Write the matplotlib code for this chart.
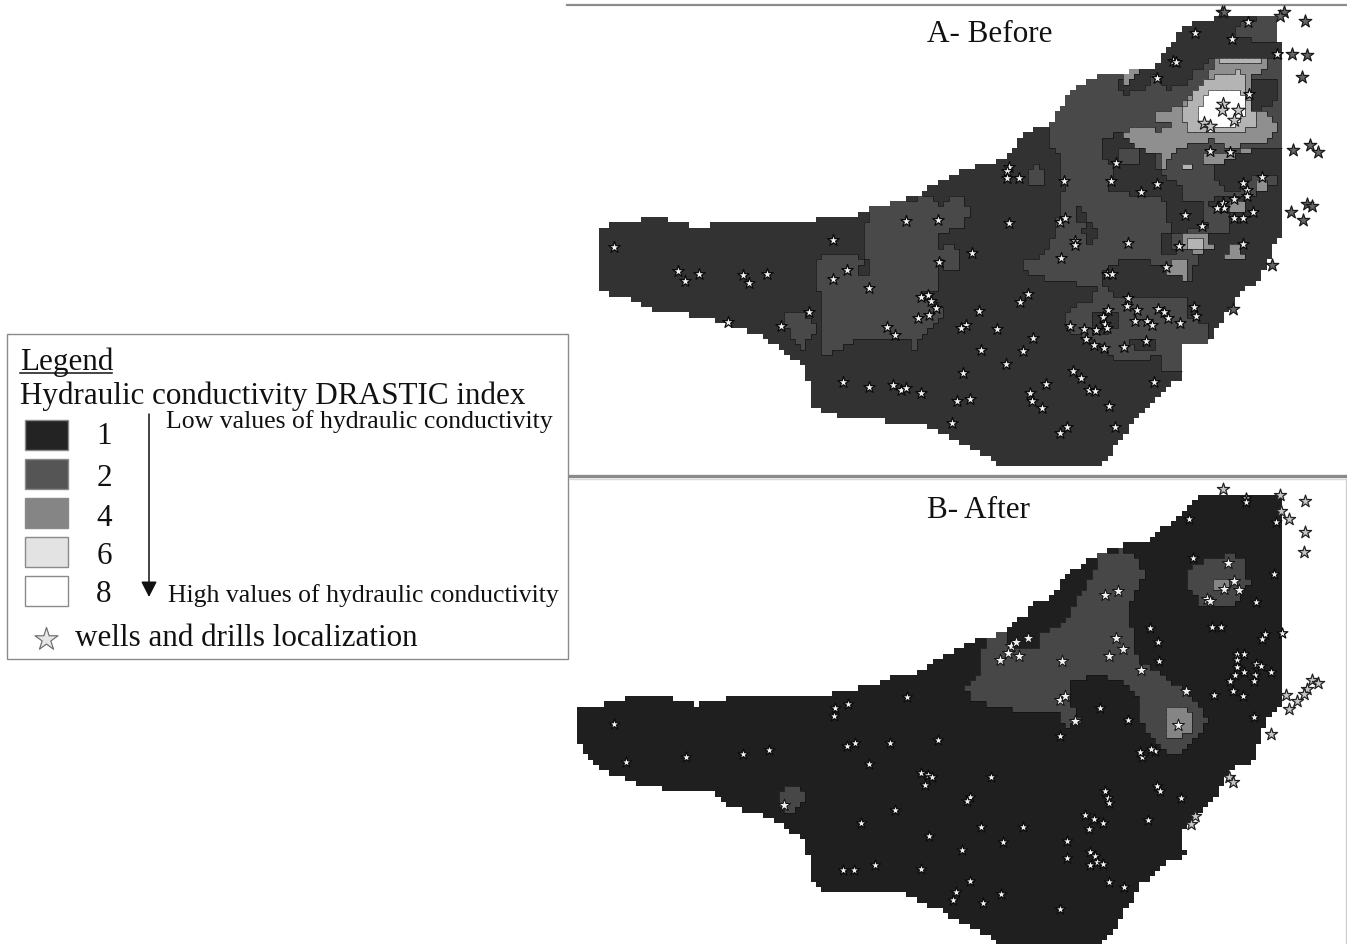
# -*- coding: utf-8 -*-
import numpy as np
import matplotlib
matplotlib.use("Agg")
from matplotlib import pyplot as plt
from matplotlib.collections import LineCollection
from matplotlib.colors import ListedColormap
from matplotlib.patches import Rectangle
from matplotlib.path import Path

plt.rcParams['font.family'] = ['Liberation Serif', 'DejaVu Serif']

# map_a / map_b: x * 2.018, y * 3   ne: x * 3, y * 3

# ---- panel A ----
a_outline = [(58,690),(80,690),(80,672),(140,672),(140,657),(192,657),(192,672),(235,672),(235,690),(285,690),
             (285,672),(340,672),(575,657),(605,625),(660,610),(700,590),(720,570),(800,510),(880,480),(920,400),
             (965,375),(990,330),(1010,280),(1055,235),(1115,220),(1175,205),(1215,140),(1225,110),(1255,68),(1295,68),
             (1300,50),(1425,50),(1425,130),(1440,130),(1440,715),(1420,735),(1410,790),(1385,850),(1350,880),(1335,930),
             (1305,985),(1285,1040),(1232,1040),(1232,1120),(1240,1130),(1215,1155),(1190,1190),(1140,1270),(1105,1330),
             (1080,1385),(1075,1400),(860,1400),(860,1385),(800,1340),(745,1300),(700,1270),(555,1262),(535,1245),
             (490,1230),(490,1180),(470,1100),(445,1075),(415,1040),(390,1010),(330,985),(300,965),(255,950),(165,935),
             (130,905),(80,885),(58,870)]

a_west_block = [(600,640),(610,625),(725,590),(745,620),(770,585),(795,600),(805,640),(790,680),(745,705),(745,825),
                (740,870),(700,890),(750,920),(760,945),(720,1000),(695,1045),(680,1020),(620,1025),(585,1015),(515,1070),
                (505,1050),(500,780),(520,765),(575,770),(590,790)]
a_west_notch = [(585,790),(605,785),(605,825),(580,825)]
a_west_small = [(432,935),(475,935),(495,990),(470,1045),(440,1000)]
a_corridor_blob = [(745,745),(770,732),(785,750),(785,805),(750,810)]
a_north_blob = [(920,510),(945,500),(962,520),(960,555),(925,560)]
a_centre = [(965,380),(1010,280),(1055,235),(1115,220),(1120,270),(1150,280),(1190,200),(1250,180),(1433,180),
            (1440,130),(1440,540),(1390,570),(1385,700),(1290,700),(1250,840),(1210,830),(1130,780),(1085,795),(1070,860),
            (1000,850),(925,830),(915,790),(945,780),(975,720),(985,640),(995,560),(985,470),(965,440)]
a_top_right = [(1340,90),(1370,60),(1425,50),(1425,130),(1375,125),(1340,105)]
a_south_patch = [(1005,930),(1050,900),(1070,860),(1130,860),(1180,880),(1240,890),(1250,960),(1285,970),(1285,1040),
                 (1232,1040),(1232,1120),(1195,1115),(1190,1060),(1165,1080),(1100,1085),(1080,1050),(1045,1020),(1000,990)]
a_south_dark_1 = [(1130,1020),(1175,1015),(1180,1045),(1135,1050)]
a_south_dark_2 = [(1050,950),(1100,930),(1110,985),(1060,1010)]
a_cross_1 = [(1015,640),(1030,625),(1045,645),(1040,665),(1020,665)]
a_cross_2 = [(1035,690),(1050,670),(1068,695),(1055,730),(1038,725)]

ne_pocket_west = [(68,420),(130,395),(180,380),(230,390),(225,470),(240,530),(300,560),(300,610),(360,600),(380,680),
                  (300,700),(240,700),(235,760),(285,770),(250,600),(180,590),(115,575),(85,575),(100,510),(68,470)]
ne_pocket_blob = [(110,450),(145,440),(180,460),(178,500),(115,500)]
ne_pocket_mid = [(395,500),(500,450),(610,440),(610,545),(545,520),(500,540),(480,580),(430,570),(400,540)]
ne_pocket_east = [(530,590),(610,590),(610,715),(560,760),(530,880),(470,880),(470,830),(500,800),(490,720),
                  (450,700),(440,640),(380,620),(400,590)]
ne_pocket_south = [(70,830),(85,795),(130,800),(185,780),(240,800),(260,800),(300,840),(315,900),(130,900),(60,860)]
ne_pocket_top = [(215,195),(255,170),(330,175),(400,175),(345,215),(320,250),(255,270),(225,240)]
ne_pocket_right = [(505,240),(580,235),(595,290),(560,320),(520,345),(505,300)]
ne_top_notch = [(115,245),(145,245),(145,282),(115,280)]

ne_light = [(130,395),(180,380),(240,395),(280,380),(210,355),(215,345),(285,325),(330,280),(390,220),(410,175),(550,175),
            (560,205),(505,235),(520,290),(540,320),(590,380),(580,420),(520,430),(450,450),(390,420),(290,450),(245,510),
            (240,470),(155,440)]
ne_lighter = [(305,340),(345,270),(395,235),(480,215),(500,235),(500,300),(530,350),(525,385),(470,400),(370,405),(320,390)]
ne_lighter_top = [(420,178),(545,178),(548,198),(420,200)]
ne_white = [(345,340),(390,265),(475,265),(490,300),(490,350),(470,375),(430,380),(395,395),(360,375)]
ne_strip = [(130,225),(175,205),(170,222),(140,255)]
ne_lower_band = [(365,470),(390,460),(430,470),(520,440),(500,460),(410,495),(370,495)]
ne_box = [(305,705),(390,705),(395,750),(360,760),(350,775),(345,760),(305,750)]
ne_box_inner = [(320,715),(365,715),(365,745),(320,745)]
ne_south_box = [(275,780),(330,780),(320,800),(315,840),(260,820),(255,800)]
ne_east_box = [(445,735),(485,730),(490,775),(440,775)]
ne_chip_1 = [(305,498),(330,498),(330,512),(305,512)]
ne_chip_2 = [(450,612),(490,612),(490,640),(450,640)]
ne_chip_3 = [(535,548),(560,548),(560,580),(535,580)]

a_wells_inside = [(88,745),(218,817),(232,845),(260,825),(349,829),(361,851),(397,825),(530,723),(559,813),(530,839),(603,866),
                  (483,939),(425,980),(319,970),(678,665),(742,663),(885,673),(812,763),(744,790),(885,503),(882,517),(882,537),
                  (906,537),(997,545),(988,670),(999,658),(1020,727),(1020,738),(990,778),(1127,733),(1091,546),(1102,491),
                  (1152,580),(1184,556),(1185,238),(1217,185),(1222,190),(1262,103),(1336,119),(1369,69),(1427,165),(1292,455),
                  (1332,460),(1241,647),(1276,680),(1229,741),(1203,803),(1083,825),(1094,825),(1358,552),(1367,572),(1367,592),
                  (1397,533),(1340,601),(1317,612),(1320,627),(1305,627),(1378,638),(1340,656),(1359,658),(1359,735),(1370,285),
                  (708,895),(722,888),(729,907),(738,927),(725,948),(702,957),(924,884),(908,908),(826,937),(800,977),(790,988),
                  (862,990),(934,1018),(829,1054),(914,1057),(880,1096),(793,1121),(639,985),(656,1007),(550,1148),(603,1163),
                  (652,1158),(668,1173),(678,1168),(708,1183),(780,1207),(807,1200),(771,1273),(928,1182),(932,1205),(952,1226),
                  (961,1155),(1015,1115),(1032,1137),(1048,1172),(1059,1177),(1088,1221),(1178,1150),(1099,1283),(1002,1285),
                  (988,1302),(1127,897),(1125,920),(1145,932),(1086,933),(1076,955),(1080,975),(1083,988),(1062,992),(1038,990),
                  (1008,982),(1041,1020),(1057,1038),(1077,1046),(1117,1045),(1163,1027),(1140,965),(1165,965),(1174,978),
                  (1186,930),(1198,938),(1207,957),(1230,973),(1260,925),(1264,950)]
a_wells_outside = [(1315,40),(1320,40),(1440,38),(1432,50),(1483,67),(1457,165),(1488,167),(1478,235),(1459,454),(1493,438),
                   (1510,460),(1487,615),(1498,620),(1454,640),(1479,662),(1417,798),(1338,930)]
a_wells_on_white = [(1318,315),(1315,333),(1348,333),(1340,362),(1280,372),(1292,380)]

# ---- panel B ----
b_outline = [(15,700),(70,700),(70,683),(108,683),(108,667),(212,667),(212,683),(245,683),(245,700),(265,700),(265,683),
             (318,683),(318,667),(525,667),(525,652),(585,652),(585,635),(620,635),(650,605),(715,590),(735,555),(775,530),
             (800,510),(835,490),(880,478),(880,460),(920,420),(935,385),(965,375),(985,340),(1000,310),(1035,265),(1075,230),
             (1110,225),(1115,212),(1175,212),(1175,195),(1215,140),(1250,90),(1275,62),(1440,62),(1440,690),(1410,730),
             (1390,800),(1380,860),(1330,885),(1300,980),(1250,1050),(1232,1070),(1232,1130),(1245,1135),(1240,1150),(1205,1155),
             (1190,1185),(1150,1235),(1125,1300),(1105,1360),(1065,1415),(860,1415),(860,1395),(800,1350),(735,1300),(680,1270),
             (680,1257),(515,1257),(490,1215),(480,1145),(465,1085),(445,1070),(415,1040),(385,1020),(325,1000),(295,960),
             (275,945),(185,945),(140,930),(90,900),(60,885),(35,850),(15,800)]
b_branch = [(835,490),(880,478),(890,520),(945,525),(950,480),(1000,440),(1010,410),(1045,320),(1070,240),(1110,228),(1140,240),
            (1160,300),(1130,390),(1130,440),(1140,520),(1150,560),(1195,600),(1245,660),(1270,690),(1285,745),(1250,815),
            (1215,850),(1180,810),(1150,740),(1150,680),(1115,620),(1060,605),(1005,620),(1005,670),(1030,750),(1000,755),
            (985,715),(910,710),(810,680),(797,640),(830,585)]
b_ne_blob = [(1245,300),(1265,265),(1320,250),(1335,235),(1360,260),(1370,330),(1335,400),(1275,400),(1250,350)]
b_ne_core = [(1300,325),(1320,310),(1335,350),(1305,350)]
b_south_core = [(1197,700),(1230,700),(1255,715),(1255,770),(1225,800),(1200,790)]
b_west_blob = [(420,965),(445,935),(470,945),(470,990),(450,1020),(430,1015)]

b_wells_small = [(88,750),(114,863),(235,848),(349,840),(401,828),(534,702),(532,726),(561,690),(558,816),(576,807),(645,807),
                 (743,797),(680,670),(603,871),(708,898),(722,903),(730,910),(716,934),(850,910),(808,968),(801,982),(656,1008),
                 (587,1048),(725,1087),(830,1060),(915,1059),(873,1103),(791,1127),(550,1187),(574,1187),(616,1174),(708,1186),
                 (807,1220),(778,1255),(772,1277),(870,1260),(833,1288),(989,1304),(1003,1100),(1002,1153),(1050,1133),(1060,1145),
                 (1050,1174),(1063,1163),(1075,1170),(1087,1225),(1118,1238),(1039,1024),(1057,1035),(1076,1048),(1047,1064),
                 (1079,950),(1085,972),(1087,988),(1166,1037),(1185,935),(1190,950),(1232,973),(989,785),(1069,702),(1127,737),
                 (1155,848),(1150,835),(1180,832),(1172,825),(1258,252),(1250,135),(1171,461),(1187,505),(1188,560),(1296,458),
                 (1314,458),(1300,662),(1338,650),(1359,667),(1380,730),(1385,383),(1420,300),(1425,145),(1436,478),(1403,480),
                 (1397,495),(1415,595),(1347,540),(1361,540),(1347,558),(1345,580),(1342,604),(1332,620),(1361,595),(1385,570),
                 (1394,577),(1382,602),(1380,620),(1365,72),(1365,85)]
b_wells_medium = [(890,517),(883,538),(868,557),(906,547),(901,504),(925,493),(993,562),(1080,363),(1105,351),(1102,492),(1115,524),
                  (1088,547),(1152,589),(1244,650),(988,677),(999,667),(1019,740),(1327,268),(1339,322),(1320,345),(1350,349),
                  (1285,375),(1291,382),(432,992),(1226,752)]
b_wells_outside = [(1317,45),(1432,63),(1435,112),(1450,135),(1483,80),(1483,175),(1481,235),(1498,618),(1510,628),(1487,645),
                   (1482,660),(1468,680),(1445,663),(1450,705),(1415,780),(1330,910),(1337,925),(1262,1025),(1254,1050)]

# ---- legend ----
legend_labels = ["1", "2", "4", "6", "8"]
legend_colors = ["#232323", "#555555", "#858585", "#e3e3e3", "#ffffff"]
a_colors = ["#323232", "#494949", "#8f8f8f", "#b4b4b4", "#ffffff"]
b_colors = ["#1f1f1f", "#474747", "#858585", "#b4b4b4", "#ffffff"]


def from_map(pts, y0):
    pts = np.array(pts, dtype=float)
    return np.column_stack((570 + pts[:, 0] / 2.018, y0 + pts[:, 1] / 3))


def from_ne(pts):
    pts = np.array(pts, dtype=float)
    return np.column_stack((1080 + pts[:, 0] / 3, pts[:, 1] / 3))


def paint(outline, regions, cell=5.3):
    # stepped raster of the map, -1 outside
    x_edges = np.arange(outline[:, 0].min() - cell, outline[:, 0].max() + cell, cell)
    y_edges = np.arange(outline[:, 1].min() - cell, outline[:, 1].max() + cell, cell)
    xc = (x_edges[:-1] + x_edges[1:]) / 2
    yc = (y_edges[:-1] + y_edges[1:]) / 2
    xx, yy = np.meshgrid(xc, yc)
    points = np.column_stack((xx.ravel(), yy.ravel()))
    inside = Path(outline).contains_points(points).reshape(xx.shape)
    grid = np.full(xx.shape, -1)
    grid[inside] = 0
    for poly, level in regions:
        hit = Path(poly).contains_points(points).reshape(xx.shape)
        grid[hit & inside] = level
    return x_edges, y_edges, grid


def draw_map(ax, outline, regions, colors):
    x_edges, y_edges, grid = paint(outline, regions)
    cmap = ListedColormap(colors)
    ax.pcolormesh(x_edges, y_edges, np.ma.masked_less(grid, 0), cmap=cmap, vmin=-0.5, vmax=4.5, zorder=1)
    # class borders, only between cells of the map
    segs = []
    for r in range(grid.shape[0]):
        for c in range(grid.shape[1]):
            if grid[r, c] < 0:
                continue
            if c + 1 < grid.shape[1] and grid[r, c + 1] >= 0 and grid[r, c + 1] != grid[r, c]:
                segs.append([(x_edges[c + 1], y_edges[r]), (x_edges[c + 1], y_edges[r + 1])])
            if r + 1 < grid.shape[0] and grid[r + 1, c] >= 0 and grid[r + 1, c] != grid[r, c]:
                segs.append([(x_edges[c], y_edges[r + 1]), (x_edges[c + 1], y_edges[r + 1])])
    ax.add_collection(LineCollection(segs, colors="#101010", linewidths=0.6, alpha=0.75, zorder=2))


def stars(ax, pts, size, face, edge, lw):
    ax.scatter(pts[:, 0], pts[:, 1], marker="*", s=size, facecolor=face, edgecolor=edge, linewidths=lw, zorder=4)


fig = plt.figure(figsize=(13.47, 9.45), dpi=100)
ax = fig.add_axes([0, 0, 1, 1])

# panel A
a_regions = [(from_map(a_centre, 0), 1), (from_map(a_top_right, 0), 1), (from_map(a_west_block, 0), 1),
             (from_map(a_west_notch, 0), 0), (from_map(a_west_small, 0), 1), (from_map(a_corridor_blob, 0), 1),
             (from_map(a_north_blob, 0), 1), (from_map(a_south_patch, 0), 1), (from_map(a_south_dark_1, 0), 0),
             (from_map(a_south_dark_2, 0), 0), (from_map(a_cross_1, 0), 0), (from_map(a_cross_2, 0), 0),
             (from_ne(ne_pocket_west), 0), (from_ne(ne_pocket_blob), 1), (from_ne(ne_pocket_mid), 0),
             (from_ne(ne_pocket_east), 0), (from_ne(ne_pocket_south), 0), (from_ne(ne_pocket_top), 0),
             (from_ne(ne_top_notch), 0), (from_ne(ne_light), 2), (from_ne(ne_pocket_right), 0),
             (from_ne(ne_lighter), 3), (from_ne(ne_lighter_top), 3), (from_ne(ne_white), 4), (from_ne(ne_strip), 2),
             (from_ne(ne_lower_band), 2), (from_ne(ne_box), 2), (from_ne(ne_box_inner), 3),
             (from_ne(ne_south_box), 2), (from_ne(ne_east_box), 2), (from_ne(ne_chip_1), 3),
             (from_ne(ne_chip_2), 2), (from_ne(ne_chip_3), 2)]
draw_map(ax, from_map(a_outline, 0), a_regions, a_colors)
stars(ax, from_map(a_wells_inside, 0), 75, "#f2f2f2", "#0a0a0a", 0.9)
stars(ax, from_map(a_wells_outside, 0), 90, "#666666", "#1a1a1a", 0.9)
stars(ax, from_map(a_wells_on_white, 0), 105, "#c8c8c8", "#1a1a1a", 0.8)

# panel B
b_regions = [(from_map(b_branch, 475), 1), (from_map(b_ne_blob, 475), 1), (from_map(b_ne_core, 475), 2),
             (from_map(b_south_core, 475), 2), (from_map(b_west_blob, 475), 1)]
draw_map(ax, from_map(b_outline, 475), b_regions, b_colors)
stars(ax, from_map(b_wells_small, 475), 65, "#f2f2f2", "#0a0a0a", 0.9)
stars(ax, from_map(b_wells_medium, 475), 85, "#f2f2f2", "#111111", 0.7)
stars(ax, from_map(b_wells_outside, 475), 85, "#c8c8c8", "#222222", 0.9)

# separators
ax.plot([567, 1347], [6, 6], color="#8c8c8c", lw=1.6, zorder=3)
ax.plot([570, 1347], [477, 477], color="#8a8a8a", lw=2.4, zorder=3)
ax.plot([570, 1347], [480, 480], color="#d8d8d8", lw=1.0, zorder=3)
ax.plot([1346, 1346], [480, 945], color="#d0d0d0", lw=1.0, zorder=3)

ax.text(927, 34, "A- Before", fontsize=22.4, va="center", ha="left", color="#111111", zorder=5)
ax.text(927, 510, "B- After", fontsize=22.4, va="center", ha="left", color="#111111", zorder=5)

# legend box
ax.add_patch(Rectangle((6.5, 335), 561.5, 325, facecolor="white", edgecolor="#8a8a8a", lw=1.0, zorder=6))
ax.text(20, 362, "Legend", fontsize=22.4, va="center", ha="left", color="#111111", zorder=7)
ax.plot([20, 112], [373.5, 373.5], color="#111111", lw=1.1, zorder=7)
ax.text(20, 396, "Hydraulic conductivity DRASTIC index", fontsize=22.4, va="center", ha="left", color="#111111", zorder=7)
swatch_y = [421, 460, 499, 538, 577]
label_y = [437, 478, 519, 557, 594]
for top, mid, label, col in zip(swatch_y, label_y, legend_labels, legend_colors):
    ax.add_patch(Rectangle((25, top), 43, 29.5, facecolor=col, edgecolor="#8a8a8a", lw=1.0, zorder=7))
    ax.text(104, mid, label, fontsize=22.4, va="center", ha="center", color="#111111", zorder=7)
ax.annotate("", xy=(149, 598), xytext=(149, 415),
            arrowprops=dict(arrowstyle="-|>,head_width=0.48,head_length=0.94", color="#111111", lw=1.1, shrinkA=0, shrinkB=0),
            zorder=7)
ax.text(166, 422, "Low values of hydraulic conductivity", fontsize=18.5, va="center", ha="left", color="#111111", zorder=7)
ax.text(168, 596, "High values of hydraulic conductivity", fontsize=18.5, va="center", ha="left", color="#111111", zorder=7)
ax.scatter([46], [640], marker="*", s=300, facecolor="#e6e6e6", edgecolor="#666666", linewidths=0.8, zorder=7)
ax.text(75, 639, "wells and drills localization", fontsize=22.4, va="center", ha="left", color="#111111", zorder=7)

ax.set_xlim(0, 1347)
ax.set_ylim(945, 0)
ax.axis("off")
fig.savefig("out.png", dpi=100)
